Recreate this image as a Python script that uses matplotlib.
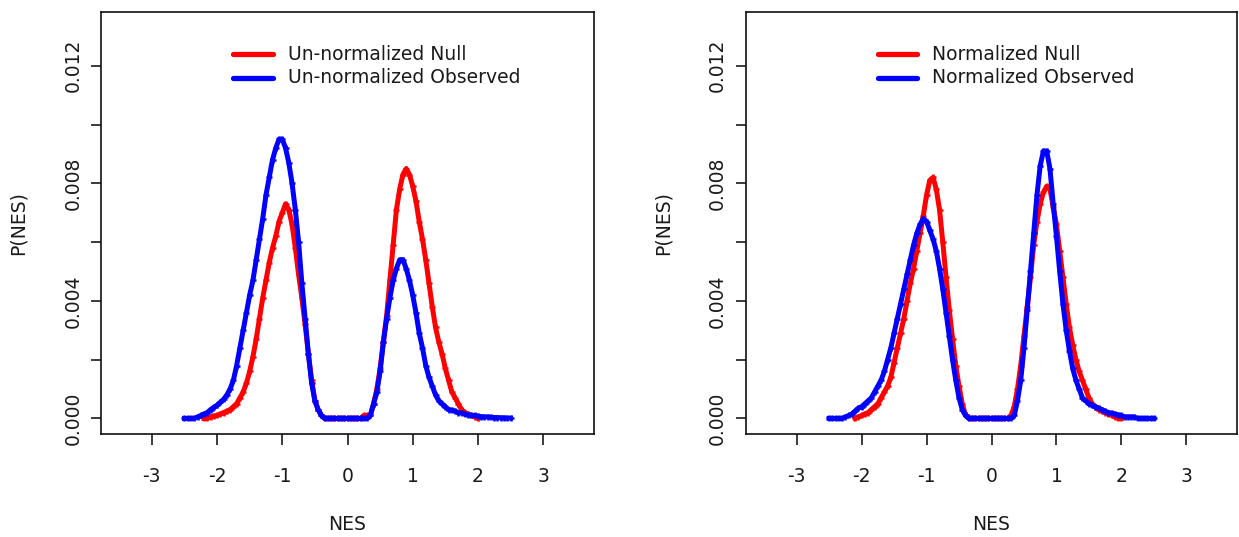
import numpy as np
import matplotlib.pyplot as plt

plt.rcParams['font.family'] = ['DejaVu Sans']

# NES sample grids
x_obs = np.round(np.arange(-2.5, 2.5001, 0.05), 2)
x_null_un = np.round(np.arange(-2.2, 2.0001, 0.05), 2)
x_null_norm = np.round(np.arange(-2.1, 2.0001, 0.05), 2)

# Un-normalized Null (red, left panel), x from -2.2 to 2.0
null_un = [
    0.0, 0.0, 0.00005, 0.00008, 0.0001, 0.00015, 0.0002, 0.00025, 0.0003, 0.0004,      # -2.20 .. -1.75
    0.0005, 0.0007, 0.0009, 0.0012, 0.0016, 0.0021, 0.0027, 0.0034, 0.0041, 0.0047,    # -1.70 .. -1.25
    0.0053, 0.0058, 0.0062, 0.0067, 0.0070, 0.0073, 0.0071, 0.0066, 0.0058, 0.0049,    # -1.20 .. -0.75
    0.0041, 0.0032, 0.0022, 0.0013, 0.0006, 0.0003, 0.0001, 0.0, 0.0, 0.0,             # -0.70 .. -0.25
    0.0, 0.0, 0.0, 0.0, 0.0, 0.0, 0.0, 0.0, 0.0, 0.0001,                               # -0.20 .. 0.25
    0.0001, 0.0001, 0.0005, 0.0010, 0.0017, 0.0026, 0.0035, 0.0047, 0.0059, 0.0071,    # 0.30 .. 0.75
    0.0078, 0.0083, 0.0085, 0.0083, 0.0079, 0.0074, 0.0067, 0.0061, 0.0054, 0.0046,    # 0.80 .. 1.25
    0.0038, 0.0031, 0.0026, 0.0022, 0.0017, 0.0013, 0.0009, 0.0007, 0.0005, 0.0003,    # 1.30 .. 1.75
    0.0002, 0.00015, 0.0001, 0.00005, 0.0,                                             # 1.80 .. 2.00
]

# Un-normalized Observed (blue, left panel), x from -2.5 to 2.5
obs_un = [
    0.0, 0.0, 0.0, 0.0, 0.00005, 0.0001, 0.00015, 0.0002, 0.0003, 0.00038,             # -2.50 .. -2.05
    0.00045, 0.00055, 0.00065, 0.0008, 0.0010, 0.0013, 0.0018, 0.0024, 0.0030, 0.0036, # -2.00 .. -1.55
    0.0042, 0.0047, 0.0054, 0.0061, 0.0068, 0.0076, 0.0082, 0.0088, 0.0092, 0.0095,    # -1.50 .. -1.05
    0.0095, 0.0092, 0.0087, 0.0080, 0.0071, 0.0060, 0.0046, 0.0034, 0.0022, 0.0012,    # -1.00 .. -0.55
    0.0006, 0.0003, 0.0001, 0.0, 0.0, 0.0, 0.0, 0.0, 0.0, 0.0,                         # -0.50 .. -0.05
    0.0, 0.0, 0.0, 0.0, 0.0, 0.0, 0.0, 0.0001, 0.0005, 0.0009,                         # 0.00 .. 0.45
    0.0016, 0.0026, 0.0034, 0.0041, 0.0047, 0.0051, 0.0054, 0.0054, 0.0051, 0.0047,    # 0.50 .. 0.95
    0.0042, 0.0036, 0.0029, 0.0024, 0.0018, 0.0014, 0.0011, 0.0008, 0.0006, 0.0005,    # 1.00 .. 1.45
    0.0004, 0.0003, 0.00028, 0.00025, 0.0002, 0.00018, 0.00015, 0.00012, 0.0001, 0.0001, # 1.50 .. 1.95
    0.00008, 0.00006, 0.00005, 0.00005, 0.00004, 0.00003, 0.00003, 0.00002, 0.00002, 0.00001, # 2.00 .. 2.45
    0.00001,                                                                           # 2.50
]

# Normalized Null (red, right panel), x from -2.1 to 2.0
null_norm = [
    0.0, 0.00005, 0.0001, 0.00015, 0.0002, 0.0003, 0.0004, 0.0005, 0.0007, 0.0009,     # -2.10 .. -1.65
    0.0011, 0.0014, 0.0019, 0.0024, 0.0029, 0.0034, 0.0040, 0.0046, 0.0051, 0.0057,    # -1.60 .. -1.15
    0.0063, 0.0069, 0.0076, 0.0081, 0.0082, 0.0078, 0.0071, 0.0060, 0.0048, 0.0037,   # -1.10 .. -0.65
    0.0027, 0.0018, 0.0011, 0.0005, 0.0001, 0.0, 0.0, 0.0, 0.0, 0.0,                   # -0.60 .. -0.15
    0.0, 0.0, 0.0, 0.0, 0.0, 0.0, 0.0, 0.0, 0.0001, 0.0004,                            # -0.10 .. 0.35
    0.0010, 0.0018, 0.0028, 0.0038, 0.0048, 0.0059, 0.0067, 0.0073, 0.0077, 0.0079,    # 0.40 .. 0.85
    0.0078, 0.0072, 0.0066, 0.0057, 0.0048, 0.0039, 0.0031, 0.0025, 0.0020, 0.0016,    # 0.90 .. 1.35
    0.0013, 0.0010, 0.0007, 0.0005, 0.0004, 0.0003, 0.00025, 0.0002, 0.00015, 0.0001,  # 1.40 .. 1.85
    0.00005, 0.0, 0.0,                                                                 # 1.90 .. 2.00
]

# Normalized Observed (blue, right panel), x from -2.5 to 2.5
obs_norm = [
    0.0, 0.0, 0.0, 0.0, 0.0, 0.00005, 0.0001, 0.00015, 0.00025, 0.00035,               # -2.50 .. -2.05
    0.0004, 0.0005, 0.0006, 0.0007, 0.0009, 0.0011, 0.0013, 0.0016, 0.0020, 0.0024,    # -2.00 .. -1.55
    0.0029, 0.0034, 0.0039, 0.0044, 0.0049, 0.0054, 0.0059, 0.0063, 0.0066, 0.0068,    # -1.50 .. -1.05
    0.0067, 0.0064, 0.0061, 0.0057, 0.0051, 0.0044, 0.0036, 0.0028, 0.0020, 0.0013,    # -1.00 .. -0.55
    0.0007, 0.0003, 0.0001, 0.0, 0.0, 0.0, 0.0, 0.0, 0.0, 0.0,                         # -0.50 .. -0.05
    0.0, 0.0, 0.0, 0.0, 0.0, 0.0, 0.0, 0.0001, 0.0006, 0.0013,                         # 0.00 .. 0.45
    0.0024, 0.0037, 0.0050, 0.0063, 0.0076, 0.0086, 0.0091, 0.0091, 0.0085, 0.0073,    # 0.50 .. 0.95
    0.0062, 0.0050, 0.0039, 0.0030, 0.0023, 0.0017, 0.0013, 0.0010, 0.0007, 0.0006,    # 1.00 .. 1.45
    0.0005, 0.00045, 0.0004, 0.00035, 0.0003, 0.00025, 0.0002, 0.00018, 0.00015, 0.00012, # 1.50 .. 1.95
    0.0001, 0.00005, 0.00005, 0.00005, 0.00005, 0.0, 0.0, 0.0, 0.0, 0.0,               # 2.00 .. 2.45
    0.0,                                                                               # 2.50
]

panels = [
    (x_null_un, null_un, x_obs, obs_un, 'Un-normalized Null', 'Un-normalized Observed'),
    (x_null_norm, null_norm, x_obs, obs_norm, 'Normalized Null', 'Normalized Observed'),
]

x_ticks = [-3, -2, -1, 0, 1, 2, 3]
y_ticks = [0.000, 0.002, 0.004, 0.006, 0.008, 0.010, 0.012]
y_tick_labels = ['0.000', '', '0.004', '', '0.008', '', '0.012']

txt = '#1a1a1a'
fs = 13.5

fig = plt.figure(figsize=(12.39, 5.37), dpi=100)
rects = [[101 / 1239, 103 / 537, 493 / 1239, 422 / 537],
         [746 / 1239, 103 / 537, 491 / 1239, 422 / 537]]

for rect, (xn, yn, xo, yo, lab_n, lab_o) in zip(rects, panels):
    ax = fig.add_axes(rect)
    ax.plot(xn, yn, color='red', lw=3.6, marker='+', ms=5, mew=1.8, zorder=3)
    ax.plot(xo, yo, color='blue', lw=3.6, marker='+', ms=5, mew=1.8, zorder=4)

    ax.set_xlim(-3.78, 3.78)
    ax.set_ylim(-0.00053, 0.01383)
    ax.set_xticks(x_ticks)
    ax.set_xticklabels([str(v) for v in x_ticks])
    ax.set_yticks(y_ticks)
    ax.set_yticklabels(y_tick_labels, rotation=90, va='center')
    ax.tick_params(axis='x', length=8, width=1.2, pad=16, labelsize=fs, colors=txt)
    ax.tick_params(axis='y', length=7.5, width=1.2, pad=6, labelsize=fs, colors=txt)
    for sp in ax.spines.values():
        sp.set_linewidth(1.2)
        sp.set_color('#111111')

    ax.set_xlabel('NES', fontsize=fs, color=txt)
    ax.xaxis.set_label_coords(0.5, -0.215)
    ax.xaxis.label.set_va('center')
    ax.set_ylabel('P(NES)', fontsize=fs, color=txt)
    ax.yaxis.set_label_coords(-0.168, 0.5)
    ax.yaxis.label.set_va('center')

    # legend drawn like R's legend(bty="n")
    for yy, col, lab in [(0.900, 'red', lab_n), (0.844, 'blue', lab_o)]:
        ax.plot([0.268, 0.349], [yy, yy], color=col, lw=3.8, transform=ax.transAxes,
                solid_capstyle='round')
        ax.text(0.379, yy, lab, transform=ax.transAxes, fontsize=fs, color=txt,
                va='center', ha='left')

fig.savefig('out.png', dpi=100)
